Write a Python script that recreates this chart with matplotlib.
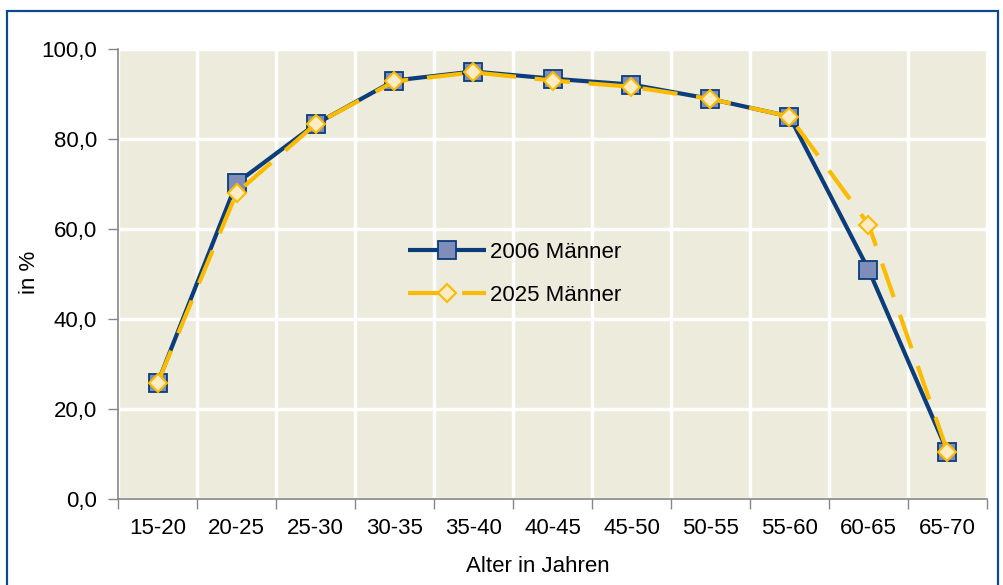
import matplotlib
matplotlib.use("Agg")
import matplotlib.pyplot as plt
from matplotlib.patches import Rectangle
from matplotlib.ticker import FuncFormatter, FixedLocator

categories = ["15-20", "20-25", "25-30", "30-35", "35-40", "40-45",
              "45-50", "50-55", "55-60", "60-65", "65-70"]
maenner_2006 = [25.7, 70.2, 83.3, 93.0, 95.0, 93.4, 92.1, 88.9, 85.0, 51.0, 10.5]
maenner_2025 = [25.7, 68.0, 83.3, 92.8, 94.8, 93.0, 91.6, 88.9, 85.0, 61.0, 10.5]
label_2006 = "2006 Männer"
label_2025 = "2025 Männer"
y_ticks = [0, 20, 40, 60, 80, 100]

plt.rcParams['font.family'] = ['Liberation Sans', 'DejaVu Sans']

W, H = 1004, 585
fig = plt.figure(figsize=(W / 100, H / 100), dpi=100)
fig.patch.set_facecolor("white")

# figure border
fig.patches.append(Rectangle((7 / W, 1 - 600 / H), (998 - 7) / W, (600 - 11) / H,
                             transform=fig.transFigure, fill=False,
                             edgecolor="#0D4A8C", linewidth=1.6, zorder=0))

left, right, top, bottom = 118, 987, 49, 499
ax = fig.add_axes([left / W, 1 - bottom / H, (right - left) / W, (bottom - top) / H])
ax.set_facecolor("#EDEBDC")

x = list(range(len(categories)))
ax.plot(x, maenner_2006, color="#0A3D7A", linewidth=3.0, marker="s", markersize=12.5,
        markerfacecolor="#7F8DBB", markeredgecolor="#0A3D7A", markeredgewidth=1.3,
        label=label_2006, zorder=3, solid_capstyle="butt")
ax.plot(x, maenner_2025, color="#FABB00", linewidth=3.0, marker="D", markersize=9,
        markerfacecolor="#FFEBC4", markeredgecolor="#FABB00", markeredgewidth=1.5,
        dashes=(8.5, 4.5), label=label_2025, zorder=4, dash_capstyle="butt")

ax.set_xlim(-0.5, len(categories) - 0.5)
ax.set_ylim(0, 100)

# ticks
ax.xaxis.set_major_locator(FixedLocator([i - 0.5 for i in range(len(categories) + 1)]))
ax.xaxis.set_minor_locator(FixedLocator(x))
ax.set_xticklabels([], minor=False)
ax.set_xticklabels(categories, minor=True)
ax.tick_params(axis="x", which="major", length=7, width=1, color="#868686", direction="out")
ax.tick_params(axis="x", which="minor", length=0, pad=14, labelsize=16)
ax.set_yticks(y_ticks)
ax.yaxis.set_major_formatter(FuncFormatter(lambda v, p: f"{v:.1f}".replace(".", ",")))
ax.tick_params(axis="y", length=7, width=1, color="#868686", direction="out", pad=8,
               labelsize=16)

ax.grid(True, which="major", color="white", linewidth=2.5)
ax.set_axisbelow(True)

for s in ["top", "right"]:
    ax.spines[s].set_visible(False)
for s in ["left", "bottom"]:
    ax.spines[s].set_color("#868686")
    ax.spines[s].set_linewidth(1.2)

ax.set_xlabel("Alter in Jahren", fontsize=16)
ax.xaxis.set_label_coords((537.5 - left) / (right - left), -(556 - bottom) / (bottom - top))
ax.set_ylabel("in %", fontsize=16)
ax.yaxis.set_label_coords(-(118 - 40) / (right - left), (bottom - 272) / (bottom - top))

leg = ax.legend(loc="center left", bbox_to_anchor=((408 - left) / (right - left),
                                                   (bottom - 274) / (bottom - top)),
                frameon=False, fontsize=16, handlelength=3.5, handletextpad=0.2,
                borderpad=0, borderaxespad=0, labelspacing=1.0)

fig.savefig("out.png", dpi=100)
